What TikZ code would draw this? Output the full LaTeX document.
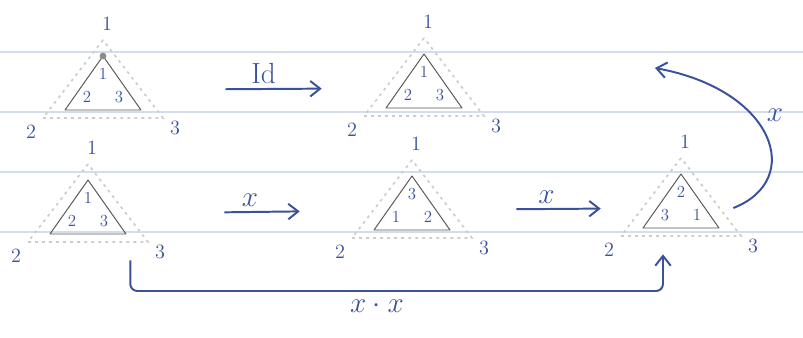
\documentclass[tikz,border=0pt]{standalone}
\usepackage{amsmath}
\usepackage{xcolor}
\usepackage{tikz}
\usetikzlibrary{positioning,arrows.meta}

\definecolor{inkblue}{RGB}{58,82,155}
\definecolor{ruleblue}{RGB}{212,221,238}

% one triangle: name, centre, inner labels (top, left, right)
\newcommand{\perm}[5]{%
  \node[slot] (#1) at (#2) {};
  \begin{scope}[shift={(#1.center)}]
    \draw[outline] (0,-50) -- (-60,28) -- (60,28) -- cycle;
    \draw[body] (0,-34) -- (-38,20) -- (38,20) -- cycle;
    \node[spot] (#1-p1) at (4,-66) {1};
    \node[spot] (#1-p2) at (-72,42) {2};
    \node[spot] (#1-p3) at (72,38) {3};
    \node[digit] (#1-a) at (0,-16) {#3};
    \node[digit] (#1-b) at (-16,7) {#4};
    \node[digit] (#1-c) at (16,7) {#5};
  \end{scope}}

\begin{document}
\begin{tikzpicture}[
			x=0.025cm, y=-0.025cm,
			>={Straight Barb[length=7pt,width=11pt]},
			rule/.style={draw=ruleblue, line width=0.8pt},
			slot/.style={minimum width=2.6cm, minimum height=2.3cm, inner sep=0pt},
			outline/.style={draw=black!20, line width=1.2pt, dash pattern=on 2pt off 3pt},
			body/.style={draw=black!65, line width=0.7pt, line join=round},
			spot/.style={text=inkblue, font=\Large},
			digit/.style={text=inkblue, font=\large},
			move/.style={->, draw=inkblue, line width=1.4pt},
			tag/.style={text=inkblue, font=\huge}
			]
			\useasboundingbox (0,0) rectangle (803,337);
			\foreach \y in {52,112,172,232}
				\draw[rule] (0,\y) -- (803,\y);
			
			\perm{t1}{103,90}{1}{2}{3}
			\perm{t2}{424,88}{1}{2}{3}
			\perm{t3}{88,214}{1}{2}{3}
			\perm{t4}{412,210}{3}{1}{2}
			\perm{t5}{681,208}{2}{3}{1}
			\fill[black!45] ([shift={(0,-34)}]t1.center) circle (2.4pt);
			
			\coordinate (back) at (655,68);
			\coordinate (low) at (377,291);
			
			\path[move] (t1) edge[shorten <=1.75cm, shorten >=1.25cm] node[tag, above] (lid) {Id} (t2);
			\path[move] (t3) edge[shorten <=2.1cm, shorten >=1.5cm] node[tag, above] (lx1) {$x$} (t4);
			\path[move] (t4) edge[shorten <=1.3cm, shorten >=0.7cm] node[tag, above] (lx2) {$x$} (t5);
			
			\draw[move] (t5.east) .. controls (805,180) and (775,90) .. node[tag, pos=0.55, above right] (lx3) {$x$} (back);
			\draw[move, rounded corners=5pt] ([xshift=-0.25cm]t3.south east) |- (low) node[tag, below=2pt] (lxx) {$x\cdot x$} -| ([xshift=-0.45cm]t5.south);
		\end{tikzpicture}
\end{document}
